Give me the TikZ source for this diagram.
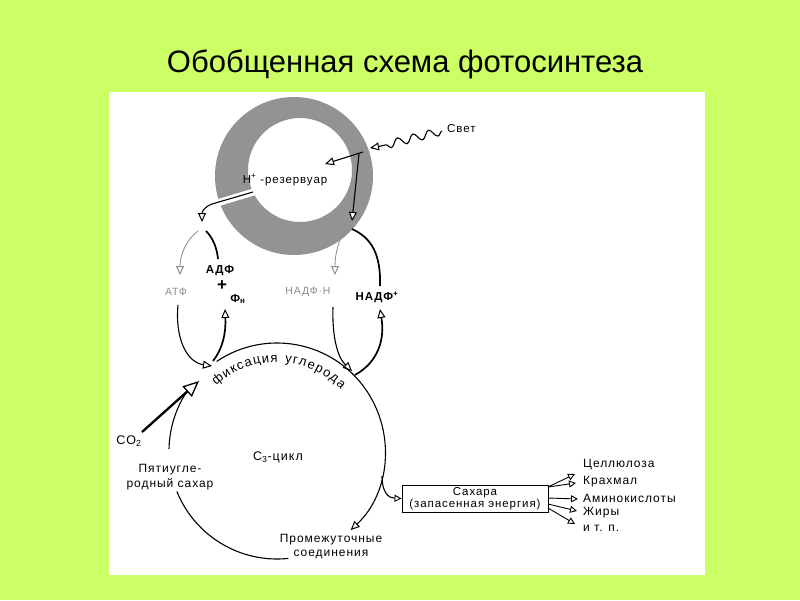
\documentclass[tikz,border=0pt]{standalone}
\usepackage{fontspec}
\setmainfont{Liberation Sans}
\newfontfamily\labfont[LetterSpace=8]{Liberation Sans}
\usetikzlibrary{arrows.meta,decorations.pathmorphing,decorations.text}
\definecolor{bggreen}{HTML}{CCFF66}
\definecolor{ringgray}{HTML}{939393}
\definecolor{faint}{HTML}{8C8C8C}
\begin{document}
\begin{tikzpicture}[x=1pt,y=-1pt,
  ln/.style={line width=1.1pt,draw=black},
  lnfaint/.style={line width=0.8pt,draw=faint},
  lnthick/.style={line width=1.7pt,draw=black},
  oa/.style={-{Triangle[length=9pt,width=8pt,fill=white,line width=1pt]}},
  oas/.style={-{Triangle[length=7pt,width=7pt,fill=white,line width=0.9pt]}},
  lbl/.style={inner sep=0pt,font=\labfont\fontsize{11.5}{13}\selectfont},
  blbl/.style={inner sep=0pt,font=\labfont\bfseries\fontsize{11.5}{13}\selectfont},
  flbl/.style={inner sep=0pt,text=faint,font=\labfont\fontsize{10.5}{12}\selectfont},
  prod/.style={inner sep=0pt,anchor=west,font=\labfont\fontsize{12}{13}\selectfont},
]
\useasboundingbox (0,0) rectangle (800,600);
\fill[bggreen] (0,0) rectangle (800,600);
\fill[white] (109,92) rectangle (705,575);
\node[font=\fontsize{31}{35}\selectfont] (title) at (405,64) {Обобщенная схема фотосинтеза};

% ring (H+ reservoir)
\fill[ringgray,even odd rule] (294,176) circle[radius=79] (300,170) circle[radius=52];
\draw[white,line width=7pt] (257,191) -- (207,206);
\node[lbl] (hres) at (285,180) {H\textsuperscript{+} -резервуар};

% light
\node[lbl,anchor=west] (svet) at (447,129) {Свет};
\coordinate (wave0) at (442,131);
\coordinate (wave1) at (381,146);
\coordinate (ps) at (370,148);
\draw[ln,decorate,decoration={snake,amplitude=4pt,segment length=16pt}] (wave0) -- (wave1);
\draw[ln,oa] (wave1) -- (ps);
\coordinate (psA) at (363,152);
\coordinate (hin) at (325,164);
\draw[ln,oa] (psA) -- (hin);
\coordinate (psB) at (359,154);
\coordinate (nadpIn) at (352,221);
\draw[ln,oa] (psB) -- (nadpIn);

% ATP synthase side
\coordinate (gapIn) at (253,192);
\coordinate (atpIn) at (202,222);
\draw[ln,oa] (gapIn) -- (212,204) .. controls (204,207) and (202,212) .. (atpIn);
\node[flbl] (atf) at (176,292) {АТФ};
\node[blbl] (adf) at (220,271) {АДФ};
\node[inner sep=0pt,font=\bfseries\fontsize{17}{17}\selectfont] (plus) at (222,286) {+};
\node[blbl] (fn) at (238,299) {Ф\textsubscript{н}};
\draw[lnfaint,oa] (198,231) .. controls (186,240) and (180,255) .. (180,275);
\draw[lnthick] (206,231) .. controls (213,238) and (217,248) .. (218,259);
\draw[ln,oa] (178,305) .. controls (175,335) and (185,362) .. (212,366);
\draw[lnthick,oa] (213,361) .. controls (223,348) and (226,333) .. (225,309);

% NADP side
\draw[lnfaint,oa] (346,229) .. controls (338,240) and (335,255) .. (335,275);
\draw[lnthick] (352,229) .. controls (372,238) and (381,255) .. (380,286);
\node[flbl] (nadph) at (308,292) {НАДФ·Н};
\node[blbl] (nadp) at (377,297) {НАДФ\textsuperscript{+}};
\draw[ln,oa] (333,307) .. controls (332,335) and (337,357) .. (352,371);
\draw[lnthick,oa] (355,375) .. controls (378,362) and (385,340) .. (380,309);

% C3 cycle
\coordinate (c3c) at (277,451);
\draw[ln,oa] (c3c) ++(-124:108) arc[start angle=-124,end angle=47,radius=108];
\draw[ln] (c3c) ++(84:108) arc[start angle=84,end angle=158,radius=108];
\draw[ln] (c3c) ++(181:108) arc[start angle=181,end angle=217,radius=108];
\path[decorate,decoration={text along path,text align={fit to path},
  text={|\labfont\fontsize{13}{15}\selectfont|фиксация углерода}}]
  (c3c) ++(-133:89) arc[start angle=-133,end angle=-44,radius=89];

% CO2
\coordinate (co2s) at (142,432);
\coordinate (co2e) at (199,381);
\draw[line width=2.3pt,-{Triangle[length=16pt,width=14pt,fill=white,line width=1.3pt]}] (co2s) -- (co2e);
\node[lbl,font=\labfont\fontsize{12.5}{14}\selectfont] (co2) at (129,441) {CO\textsubscript{2}};

\node[lbl,font=\labfont\fontsize{12.5}{14}\selectfont] (c3) at (278,457) {C\textsubscript{3}-цикл};
\node[lbl,align=center,font=\labfont\fontsize{12}{15}\selectfont] (penta) at (170,477) {Пятиугле-\\родный сахар};
\node[lbl,align=center,font=\labfont\fontsize{12}{14}\selectfont] (inter) at (331,547) {Промежуточные\\соединения};

% sugar box
\node[draw,line width=0.9pt,inner sep=0pt,minimum width=146pt,minimum height=27pt,align=center,
  font=\labfont\fontsize{11.5}{12.5}\selectfont] (sugar) at (475,498.5) {Сахара\\(запасенная энергия)};
\coordinate (brS) at (382,476);
\draw[ln,oas] (brS) .. controls (382,492) and (388,498) .. (sugar.west);

\coordinate (f1s) at (548,487); \coordinate (f1e) at (575,474);
\coordinate (f2s) at (548,487); \coordinate (f2e) at (576,483);
\coordinate (f3s) at (548,498); \coordinate (f3e) at (578,499);
\coordinate (f4s) at (548,504); \coordinate (f4e) at (577,511);
\coordinate (f5s) at (548,508); \coordinate (f5e) at (575,524);
\foreach \i in {1,...,5} {\draw[ln,line width=0.9pt,oas] (f\i s) -- (f\i e);}

\node[prod] (p1) at (583,465) {Целлюлоза};
\node[prod] (p2) at (583,482) {Крахмал};
\node[prod] (p3) at (583,498) {Аминокислоты};
\node[prod] (p4) at (583,513) {Жиры};
\node[prod] (p5) at (583,528) {и т. п.};
\end{tikzpicture}
\end{document}
